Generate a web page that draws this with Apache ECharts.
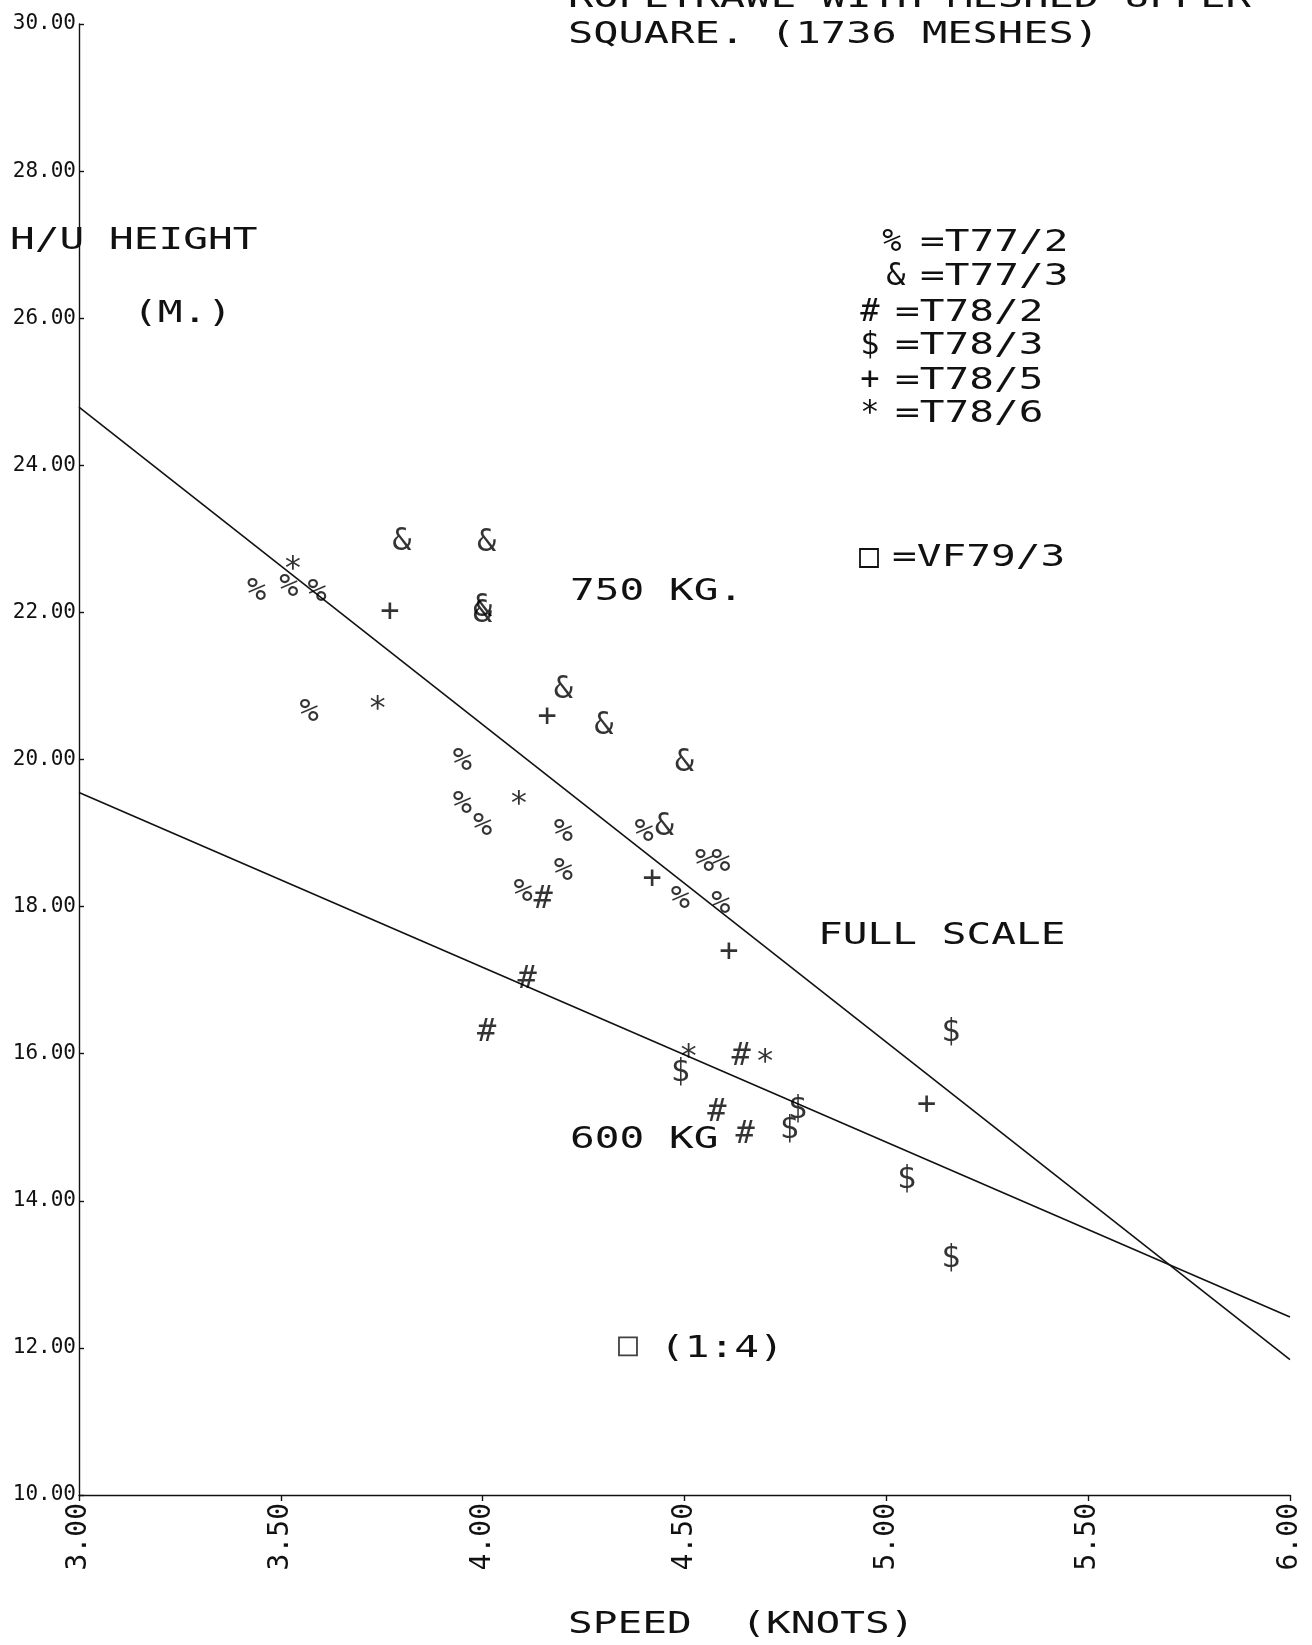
<!DOCTYPE html>
<html>
<head>
<meta charset="utf-8">
<title>Ropetrawl headline height vs speed</title>
<script src="https://cdn.jsdelivr.net/npm/echarts@6/dist/echarts.min.js"></script>
<style>
  html, body { margin: 0; padding: 0; background: #ffffff; }
  #chart { width: 1312px; height: 1645px; }
</style>
</head>
<body>
<div id="chart"></div>
<script>
// Axis ranges and ticks
const xMin = 3.0, xMax = 6.0, xStep = 0.5;
const yMin = 10.0, yMax = 30.0, yStep = 2.0;

// Headline height (m) against towing speed (knots), one list per trawl trial
const t77_2 = [[3.44, 22.28], [3.52, 22.34], [3.59, 22.27], [3.57, 20.64], [3.95, 19.97],
               [3.95, 19.39], [4.00, 19.09], [4.20, 19.01], [4.40, 19.01], [4.20, 18.48],
               [4.55, 18.60], [4.59, 18.60], [4.10, 18.19], [4.49, 18.10], [4.59, 18.03]];
const t77_3 = [[3.80, 22.96], [4.01, 22.95], [4.00, 22.06], [4.00, 21.98], [4.20, 20.95],
               [4.30, 20.46], [4.50, 19.96], [4.45, 19.08]];
const t78_2 = [[4.15, 18.10], [4.11, 17.00], [4.01, 16.29], [4.64, 15.96], [4.58, 15.20],
               [4.65, 14.90]];
const t78_3 = [[4.49, 15.74], [4.78, 15.24], [4.76, 14.97], [5.16, 16.29], [5.05, 14.29],
               [5.16, 13.21]];
const t78_5 = [[3.77, 22.00], [4.16, 20.57], [4.42, 18.37], [4.61, 17.38], [5.10, 15.29]];
const t78_6 = [[3.53, 22.58], [3.74, 20.68], [4.09, 19.39], [4.51, 15.95], [4.70, 15.88]];
const vf79_3 = [[4.36, 12.02]];

// Fitted lines for the two warp loads
const line750 = [[3.0, 24.79], [6.0, 11.84]];
const line600 = [[3.0, 19.55], [6.0, 12.42]];

const trialNames  = ['T77/2', 'T77/3', 'T78/2', 'T78/3', 'T78/5', 'T78/6'];
const trialGlyphs = ['%', '&', '#', '$', '+', '*'];
const trialData   = [t77_2, t77_3, t78_2, t78_3, t78_5, t78_6];

const MONO = '"DejaVu Sans Mono", "Liberation Mono", monospace';
const INK = '#111111';

// Plotter-style lettering: monospace text stretched to the wide pen pitch
function plotText(str, x, y, opts) {
  opts = opts || {};
  return {
    type: 'text',
    x: x, y: y,
    scaleX: opts.scaleX != null ? opts.scaleX : 1.37,
    z: 10,
    style: {
      text: str,
      fontFamily: MONO,
      fontSize: opts.size || 30,
      fill: INK,
      align: 'left',
      verticalAlign: 'middle'
    }
  };
}

const series = [];

series.push({
  name: '750 KG', type: 'line', data: line750, symbol: 'none', silent: true,
  lineStyle: { color: INK, width: 1.6 }, z: 1
});
series.push({
  name: '600 KG', type: 'line', data: line600, symbol: 'none', silent: true,
  lineStyle: { color: INK, width: 1.6 }, z: 1
});

trialData.forEach(function (d, i) {
  series.push({
    name: trialNames[i],
    type: 'scatter',
    data: d,
    symbolSize: 1,
    itemStyle: { color: 'rgba(0,0,0,0)' },
    label: {
      show: true,
      position: 'inside',
      formatter: trialGlyphs[i],
      fontFamily: MONO,
      fontSize: 32,
      color: '#000000'
    },
    z: 5
  });
});

series.push({
  name: 'VF79/3',
  type: 'scatter',
  data: vf79_3,
  symbol: 'rect',
  symbolSize: 18,
  itemStyle: { color: 'rgba(0,0,0,0)', borderColor: INK, borderWidth: 1.8 },
  z: 5
});

// Text blocks
const graphics = [
  plotText('ROPETRAWL WITH MESHED UPPER', 568, -1, { scaleX: 1.4 }),
  plotText('SQUARE. (1736 MESHES)', 568, 35, { scaleX: 1.4 }),
  plotText('H/U HEIGHT', 10, 241),
  plotText('(M.)', 133, 314),
  plotText('750 KG.', 570, 592),
  plotText('FULL SCALE', 818, 936),
  plotText('600 KG', 570, 1140),
  plotText('(1:4)', 660, 1349),
  plotText('SPEED  (KNOTS)', 568, 1625)
];

// Key of trial symbols
const keyGlyphX = [892, 896, 870, 870, 870, 870];
const keyTextX  = [920, 920, 895, 895, 895, 895];
const keyY      = [243, 277, 313, 346, 381, 414];
trialNames.forEach(function (n, i) {
  graphics.push({
    type: 'text', x: keyGlyphX[i], y: keyY[i], z: 10,
    style: { text: trialGlyphs[i], fontFamily: MONO, fontSize: 32, fill: INK,
             align: 'center', verticalAlign: 'middle' }
  });
  graphics.push(plotText('=' + n, keyTextX[i], keyY[i]));
});
graphics.push({
  type: 'rect', x: 860, y: 549, z: 10,
  shape: { width: 18, height: 18 },
  style: { fill: 'none', stroke: INK, lineWidth: 1.8 }
});
graphics.push(plotText('=VF79/3', 892, 558));

const option = {
  backgroundColor: '#ffffff',
  animation: false,
  grid: { left: 79, right: 22, top: 24, bottom: 150, containLabel: false },
  xAxis: {
    type: 'value', min: xMin, max: xMax, interval: xStep,
    axisLine: { show: true, onZero: false, lineStyle: { color: INK, width: 1.4 } },
    axisTick: { show: true, inside: false, length: 6, lineStyle: { color: INK, width: 1.4 } },
    splitLine: { show: false },
    axisLabel: {
      rotate: 90, margin: 8, color: INK,
      fontFamily: MONO, fontSize: 28,
      formatter: function (v) { return v.toFixed(2); }
    }
  },
  yAxis: {
    type: 'value', min: yMin, max: yMax, interval: yStep,
    axisLine: { show: true, onZero: false, lineStyle: { color: INK, width: 1.4 } },
    axisTick: { show: true, inside: true, length: 5, lineStyle: { color: INK, width: 1.4 } },
    splitLine: { show: false },
    axisLabel: {
      margin: 3, color: INK,
      fontFamily: MONO, fontSize: 21,
      formatter: function (v) { return v.toFixed(2); }
    }
  },
  series: series,
  graphic: graphics
};

const chart = echarts.init(document.getElementById('chart'), null, { renderer: 'canvas' });
chart.setOption(option);
</script>
</body>
</html>
